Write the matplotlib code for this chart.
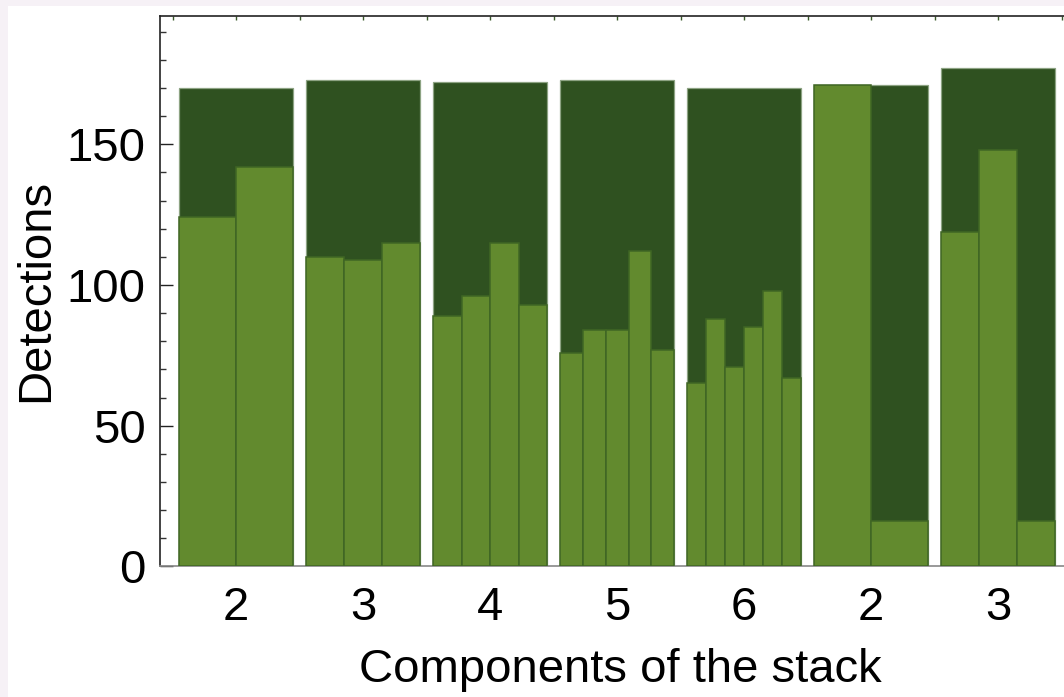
import matplotlib
matplotlib.use("Agg")
import matplotlib.pyplot as plt
from matplotlib.patches import Rectangle
from matplotlib.ticker import MultipleLocator

# ---- data ----
group_labels = ["2", "3", "4", "5", "6", "2", "3"]
totals = [170, 173, 172, 173, 170, 171, 177]
parts_g1 = [124, 142]
parts_g2 = [110, 109, 115]
parts_g3 = [89, 96, 115, 93]
parts_g4 = [76, 84, 84, 112, 77]
parts_g5 = [65, 88, 71, 85, 98, 67]
parts_g6 = [171, 16]
parts_g7 = [119, 148, 16]
parts = [parts_g1, parts_g2, parts_g3, parts_g4, parts_g5, parts_g6, parts_g7]

dark = "#2f5120"
light = "#628a2e"

plt.rcParams['font.family'] = ['Liberation Sans', 'DejaVu Sans']

W, H = 1064, 697
fig = plt.figure(figsize=(W / 100, H / 100), dpi=100, facecolor="#f6f1f6")
# white panel
fig.patches.append(Rectangle((8 / W, 0), 1, 1 - 6 / H, transform=fig.transFigure,
                             facecolor="white", edgecolor="none", zorder=-10))

x0, x1 = -0.6, 6.6
px_per_unit = 127.0
left = 160 / W
bottom = (H - 566.4) / H
top = (H - 16) / H
ax = fig.add_axes([left, bottom, (x1 - x0) * px_per_unit / W, top - bottom])
ax.set_zorder(5)
ax.set_facecolor("white")

gw = 0.9
for i, (tot, pp) in enumerate(zip(totals, parts)):
    ax.bar(i, tot, width=gw, color=dark, edgecolor="#8da383", linewidth=0.9, zorder=2)
    n = len(pp)
    w = gw / n
    xs = [i - gw / 2 + w * (k + 0.5) for k in range(n)]
    ax.bar(xs, pp, width=w, color=light, edgecolor="#3f6624", linewidth=1.1, zorder=3)

ax.set_xlim(x0, x1)
ax.set_ylim(0, 195.6)

ax.set_xticks(range(len(group_labels)))
ax.set_xticklabels(group_labels)
ax.xaxis.set_minor_locator(MultipleLocator(0.5))
ax.set_yticks([0, 50, 100, 150])
ax.yaxis.set_minor_locator(MultipleLocator(10))

ax.tick_params(axis="x", which="both", direction="in", labelsize=34, pad=14,
               bottom=False, top=True, length=3, width=1, color="#3a5a2a",
               labelbottom=True, labeltop=False)
ax.tick_params(axis="y", which="major", direction="in", length=9, width=1,
               color="#222222", labelsize=34, pad=10.5, right=False)
ax.tick_params(axis="y", which="minor", direction="in", length=4, width=1,
               color="#333333", right=False)

for s in ["left", "top"]:
    ax.spines[s].set_color("#222222")
    ax.spines[s].set_linewidth(1.2)
ax.spines["bottom"].set_color("#888888")
ax.spines["bottom"].set_linewidth(1.2)
ax.spines["right"].set_visible(False)

fig.text(36 / W, 1 - 290 / H, "Detections", rotation=90, ha="center", va="center",
         fontsize=34)
fig.text(620 / W, 1 - 682 / H, "Components of the stack", ha="center", va="baseline",
         fontsize=34)

fig.savefig("out.png", dpi=100, facecolor=fig.get_facecolor())
